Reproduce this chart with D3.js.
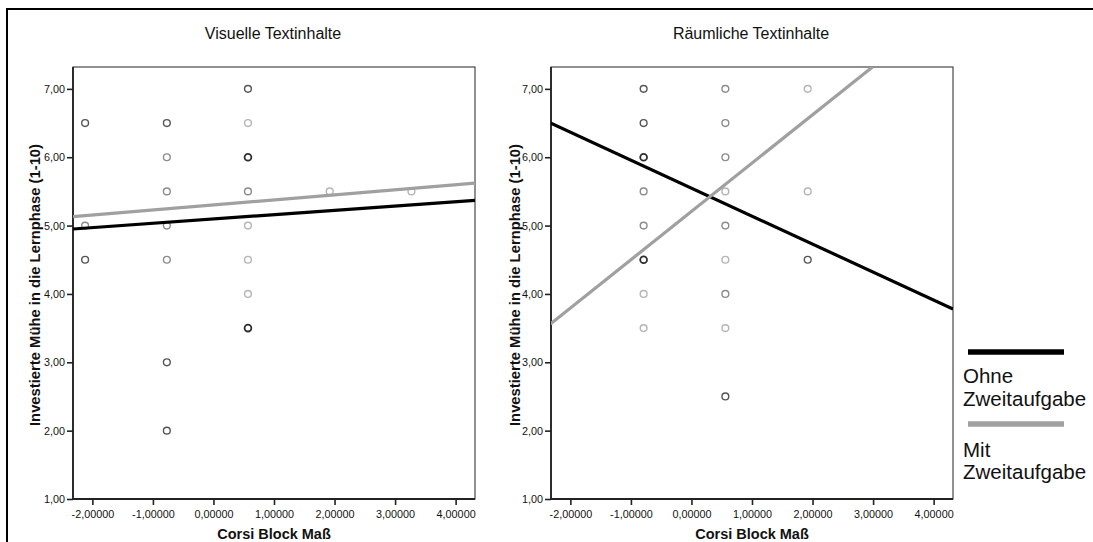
<!DOCTYPE html>
<html><head><meta charset="utf-8">
<script src="https://cdn.jsdelivr.net/npm/d3@7"></script>
<style>body{margin:0;background:#fff}svg{display:block;font-family:Arial,"Liberation Sans",sans-serif}</style>
</head><body>
<svg id="c" width="1093" height="542"></svg>
<script>
// ---- data ----
const panelTitles = ["Visuelle Textinhalte", "Räumliche Textinhalte"];
const xTicks = [-2, -1, 0, 1, 2, 3, 4];
const yTicks = [1, 2, 3, 4, 5, 6, 7];
const xDomain = [-2.32, 4.32];
const yDomain = [1, 7.32];
const xLabel = "Corsi Block Maß";
const yLabel = "Investierte Mühe in die Lernphase (1-10)";
const seriesNames = ["Ohne Zweitaufgabe", "Mit Zweitaufgabe"];

// scatter points [corsi, effort] per panel and group
const visOhne = [[-2.12,6.5],[-2.12,4.5],[-2.12,5.0],[-0.77,6.5],[-0.77,6.0],[-0.77,5.5],[-0.77,5.0],[-0.77,4.5],[-0.77,3.0],[-0.77,2.0],
                 [0.57,7.0],[0.57,6.0],[0.57,6.0],[0.57,5.5],[0.57,3.5],[0.57,3.5]];
const visMit  = [[-2.12,5.0],[-0.77,6.0],[-0.77,5.5],[-0.77,5.0],[-0.77,4.5],[0.57,6.5],[0.57,5.5],[0.57,5.0],[0.57,4.5],[0.57,4.0],
                 [1.92,5.5],[3.27,5.5]];
const raumOhne = [[-0.79,7.0],[-0.79,6.5],[-0.79,6.0],[-0.79,6.0],[-0.79,5.5],[-0.79,5.0],[-0.79,4.5],[-0.79,4.5],
                  [0.56,7.0],[0.56,6.5],[0.56,6.0],[0.56,5.0],[0.56,4.0],[0.56,2.5],[1.92,4.5]];
const raumMit  = [[-0.79,5.5],[-0.79,5.0],[-0.79,4.0],[-0.79,3.5],[0.56,7.0],[0.56,6.5],[0.56,6.0],[0.56,5.5],[0.56,5.0],[0.56,4.5],
                  [0.56,4.0],[0.56,3.5],[1.92,7.0],[1.92,5.5]];

// fit lines [x0, y0, x1, y1]
const visFitOhne = [-2.32, 4.95, 4.32, 5.37];
const visFitMit  = [-2.32, 5.13, 4.32, 5.62];
const raumFitOhne = [-2.33, 6.50, 4.32, 3.78];
const raumFitMit  = [-2.33, 3.56, 2.99, 7.32];

const panels = [
  {title: panelTitles[0], ohne: visOhne, mit: visMit, fits: [visFitOhne, visFitMit], left: 73, labelX: 35},
  {title: panelTitles[1], ohne: raumOhne, mit: raumMit, fits: [raumFitOhne, raumFitMit], left: 551, labelX: 515}
];

// ---- drawing ----
const svg = d3.select("#c");
svg.append("rect").attr("x", 7).attr("y", 9).attr("width", 1200).attr("height", 700)
  .attr("fill", "none").attr("stroke", "#000").attr("stroke-width", 2);

const plotTop = 67, W = 402, H = 432;
const fmtY = v => d3.format(".2f")(v).replace(".", ",");
const fmtX = v => d3.format(".5f")(v).replace(".", ",").replace("\u2212", "-");
const lineColors = ["#000", "#a0a0a0"];

panels.forEach((p, i) => {
  const x = d3.scaleLinear().domain(xDomain).range([p.left, p.left + W]);
  const y = d3.scaleLinear().domain(yDomain).range([plotTop + H, plotTop]);
  const g = svg.append("g");

  g.append("text").attr("x", p.left + W / 2 - 1).attr("y", 39).attr("text-anchor", "middle")
    .attr("font-size", 16).attr("fill", "#111").text(p.title);

  g.append("rect").attr("x", p.left).attr("y", plotTop).attr("width", W).attr("height", H)
    .attr("fill", "none").attr("stroke", "#222").attr("stroke-width", 1);

  const yAxis = g.append("g").attr("transform", `translate(${p.left},0)`)
    .call(d3.axisLeft(y).tickValues(yTicks).tickFormat(fmtY).tickSize(6).tickPadding(2));
  const xAxis = g.append("g").attr("transform", `translate(0,${plotTop + H})`)
    .call(d3.axisBottom(x).tickValues(xTicks).tickFormat(fmtX).tickSize(6).tickPadding(5));
  [yAxis, xAxis].forEach(a => {
    a.select(".domain").remove();
    a.selectAll("line").attr("stroke", "#222").attr("stroke-width", 1.6);
    a.selectAll("text").attr("font-size", 10.8).attr("fill", "#111").attr("font-family", "Arial, 'Liberation Sans', sans-serif");
  });
  g.append("line").attr("x1", p.left).attr("x2", p.left).attr("y1", plotTop).attr("y2", plotTop + H + 1)
    .attr("stroke", "#222").attr("stroke-width", 1.8);
  g.append("line").attr("x1", p.left - 1).attr("x2", p.left + W).attr("y1", plotTop + H).attr("y2", plotTop + H)
    .attr("stroke", "#222").attr("stroke-width", 1.8);

  g.append("text").attr("x", p.left + W / 2).attr("y", plotTop + H + 40).attr("text-anchor", "middle")
    .attr("font-size", 14.5).attr("font-weight", "bold").attr("fill", "#111").text(xLabel);
  g.append("text").attr("transform", `translate(${p.labelX + 5},${plotTop + H / 2 + 2}) rotate(-90)`)
    .attr("text-anchor", "middle").attr("font-size", 14.8).attr("font-weight", "bold").attr("fill", "#111").text(yLabel);

  // points: aggregate by location to shade overlaps
  const key = d => d[0] + "|" + d[1];
  const locs = new Map();
  p.ohne.forEach(d => { const k = key(d); if (!locs.has(k)) locs.set(k, {x: d[0], y: d[1], o: 0, m: 0}); locs.get(k).o++; });
  p.mit.forEach(d => { const k = key(d); if (!locs.has(k)) locs.set(k, {x: d[0], y: d[1], o: 0, m: 0}); locs.get(k).m++; });
  const shade = d => d.o && d.m ? "#8c8c8c" : d.o > 1 ? "#2e2e2e" : d.o ? "#555" : "#b5b5b5";
  g.append("g").selectAll("circle").data([...locs.values()]).join("circle")
    .attr("cx", d => x(d.x)).attr("cy", d => y(d.y)).attr("r", 3.4)
    .attr("fill", "none").attr("stroke", shade).attr("stroke-width", d => d.o > 1 && !d.m ? 1.8 : 1.4);

  const clipId = "clip" + i;
  svg.append("clipPath").attr("id", clipId).append("rect")
    .attr("x", p.left).attr("y", plotTop).attr("width", W).attr("height", H);
  const lg = g.append("g").attr("clip-path", `url(#${clipId})`);
  p.fits.forEach((f, j) => {
    lg.append("line").attr("x1", x(f[0])).attr("y1", y(f[1])).attr("x2", x(f[2])).attr("y2", y(f[3]))
      .attr("stroke", lineColors[j]).attr("stroke-width", 3.2);
  });
});

// legend
const leg = svg.append("g");
const legRows = [{y: 352, t1: 383, t2: 406}, {y: 424, t1: 457, t2: 479}];
seriesNames.forEach((name, j) => {
  const r = legRows[j];
  leg.append("line").attr("x1", 968).attr("x2", 1064).attr("y1", r.y).attr("y2", r.y)
    .attr("stroke", lineColors[j]).attr("stroke-width", 5.5);
  const parts = name.split(" ");
  leg.append("text").attr("x", 963).attr("y", r.t1).attr("font-size", 20.5).attr("fill", "#111").text(parts[0]);
  leg.append("text").attr("x", 963).attr("y", r.t2).attr("font-size", 20.5).attr("fill", "#111").text(parts[1]);
});
</script>
</body></html>
